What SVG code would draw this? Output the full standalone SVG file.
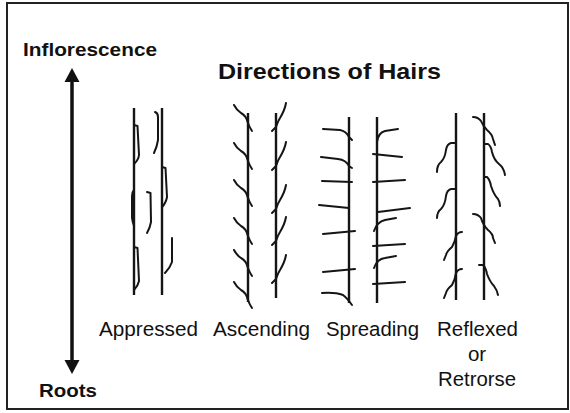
<svg xmlns="http://www.w3.org/2000/svg" width="570" height="413" viewBox="0 0 570 413">
  <style>
    .frame { fill: #ffffff; stroke: #222; stroke-width: 2; }
    .stem { fill: none; stroke: #151515; stroke-width: 2.4; stroke-linecap: butt; }
    .hair { fill: none; stroke: #151515; stroke-width: 2; stroke-linecap: round; stroke-linejoin: round; }
    .lbl { font-family: "Liberation Sans", Arial, sans-serif; fill: #111; }
    .bold { font-weight: bold; }
  </style>
  <defs>
    <!-- ascending hairs: left side and right side of a stem -->
    <path id="ascL" class="hair" d="M-14,0 C-12,4 -10,6 -7,8 C-3,10 -1,14 0,18 C1,21 2,23 4,26"/>
    <path id="ascR" class="hair" d="M10,0 C9,6 7,10 4,15 C2,18 1,21 0,24 L-4,28"/>
  </defs>

  <rect class="frame" x="7" y="3" width="561" height="406"/>

  <!-- headings -->
  <text class="lbl bold" x="23" y="56" font-size="18.5" textLength="134" lengthAdjust="spacingAndGlyphs">Inflorescence</text>
  <text class="lbl bold" x="218" y="79" font-size="22.5" textLength="223" lengthAdjust="spacingAndGlyphs">Directions of Hairs</text>
  <text class="lbl bold" x="39" y="397" font-size="18.5" textLength="58" lengthAdjust="spacingAndGlyphs">Roots</text>

  <!-- double-headed axis arrow -->
  <g id="connectors">
    <line x1="72" y1="80" x2="72" y2="362" stroke="#111" stroke-width="3.5"/>
    <polygon points="72,68 64.5,82 79.5,82" fill="#111"/>
    <polygon points="72,374 64.5,360 79.5,360" fill="#111"/>
  </g>

  <g id="appressed">
    <path class="stem" d="M134,108 V295 M162,108 V295"/>
    <path class="hair" d="M134,125 L137.5,126 L139,155 Q138.5,160 134,164"/>
    <path class="hair" d="M134,190 Q132,192 132,196 L132,218 Q132.5,222 134,226" stroke-width="3"/>
    <path class="hair" d="M134,247 L137.5,248 L139,281 Q138,286 134,290"/>
    <path class="hair" d="M155,112 Q158,113 158,117 L158,140 Q157,147 154,153"/>
    <path class="hair" d="M147,192 L150.5,193 L151,222 Q150,228 147,233"/>
    <path class="hair" d="M162,167 L165.5,168 L167,197 Q166,203 162,207"/>
    <path class="hair" d="M172,238 L172,262 Q170,268 165,273"/>
    <text class="lbl" x="99" y="336" font-size="20.5" textLength="99" lengthAdjust="spacingAndGlyphs">Appressed</text>
  </g>

  <g id="ascending">
    <path class="stem" d="M248,113 V302 M276,113 V298"/>
    <use href="#ascL" x="248" y="105"/>
    <use href="#ascL" x="248" y="143"/>
    <use href="#ascL" x="248" y="180"/>
    <use href="#ascL" x="248" y="218"/>
    <use href="#ascL" x="248" y="250"/>
    <use href="#ascL" x="248" y="282"/>
    <use href="#ascR" x="276" y="103"/>
    <use href="#ascR" x="276" y="142"/>
    <use href="#ascR" x="276" y="185"/>
    <use href="#ascR" x="276" y="217"/>
    <use href="#ascR" x="276" y="255"/>
    <text class="lbl" x="213" y="336" font-size="20.5" textLength="97" lengthAdjust="spacingAndGlyphs">Ascending</text>
  </g>

  <g id="spreading">
    <path class="stem" d="M349,117 V303 M377,117 V303"/>
    <path class="hair" d="M323,129 L340,130 Q346,131 349,137 L352,140"/>
    <path class="hair" d="M321,157 L338,159 Q346,160 349,166 L352,168"/>
    <path class="hair" d="M322,181 L352,182"/>
    <path class="hair" d="M319,205 L349,208"/>
    <path class="hair" d="M323,234 L355,231"/>
    <path class="hair" d="M323,272 L355,269"/>
    <path class="hair" d="M322,293 Q335,292 343,295 Q347,298 352,305"/>
    <path class="hair" d="M377,142 Q378,133 385,131 L398,129"/>
    <path class="hair" d="M373,154 L402,157"/>
    <path class="hair" d="M373,182 L405,180"/>
    <path class="hair" d="M378,212 L410,208"/>
    <path class="hair" d="M374,231 Q377,222 385,220 L396,218"/>
    <path class="hair" d="M373,246 L405,244"/>
    <path class="hair" d="M374,268 Q377,259 385,258 L396,256"/>
    <path class="hair" d="M373,284 L405,282"/>
    <text class="lbl" x="326" y="336" font-size="20.5" textLength="93" lengthAdjust="spacingAndGlyphs">Spreading</text>
  </g>

  <g id="reflexed">
    <path class="stem" d="M456,113 V300 M484,113 V300"/>
    <path class="hair" d="M456,143 L451,143 Q447,144 446,150 Q445,158 441,162 Q437,165 437,172"/>
    <path class="hair" d="M456,189 L451,189 Q447,190 446,196 Q445,205 441,209 Q437,212 437,218"/>
    <path class="hair" d="M462,232 Q458,232 456,236 Q455,242 452,247 Q447,251 446,255 L444,260"/>
    <path class="hair" d="M462,269 Q458,269 456,273 Q455,280 452,285 Q447,289 446,293 L444,298"/>
    <path class="hair" d="M473,117 Q478,117 481,121 Q483,126 487,130 Q492,134 493,139 L495,145"/>
    <path class="hair" d="M484,144 L488,144 Q491,146 492,152 Q494,160 499,164 Q504,168 505,175"/>
    <path class="hair" d="M484,177 L487,177 Q490,180 491,186 Q494,195 498,199 Q500,202 500,206"/>
    <path class="hair" d="M473,214 Q478,214 481,218 Q483,225 488,230 Q493,234 493,238 L495,243"/>
    <path class="hair" d="M479,265 L483,265 Q486,268 487,274 Q490,282 494,286 Q497,290 498,295"/>
    <text class="lbl" x="437" y="336" font-size="20.5" textLength="81" lengthAdjust="spacingAndGlyphs">Reflexed</text>
    <text class="lbl" x="477" y="361" font-size="20.5" text-anchor="middle">or</text>
    <text class="lbl" x="438" y="386" font-size="20.5" textLength="78" lengthAdjust="spacingAndGlyphs">Retrorse</text>
  </g>
</svg>
